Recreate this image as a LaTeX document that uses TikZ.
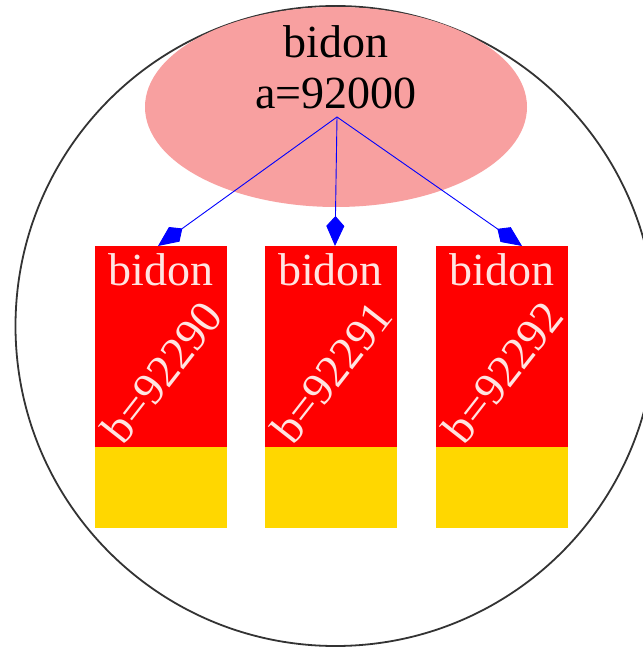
\documentclass[tikz,border=0pt]{standalone}
\usepackage{fontspec}
\setmainfont{Liberation Serif}
\usetikzlibrary{shapes.geometric,arrows.meta}
\definecolor{pinkfill}{RGB}{248,160,160}
\definecolor{boxred}{RGB}{255,0,0}
\definecolor{boxgold}{RGB}{255,215,0}
\definecolor{paletext}{RGB}{255,228,225}
\tikzset{
  bigtext/.style={font=\fontsize{46}{51}\selectfont, inner sep=0pt},
  redbox/.style={fill=boxred, draw=none, minimum width=132pt, minimum height=201pt, inner sep=0pt},
  goldbox/.style={fill=boxgold, draw=none, minimum width=132pt, minimum height=81pt, inner sep=0pt},
  boxtext/.style={bigtext, text=paletext},
  link/.style={blue, line width=0.9pt, -{Kite[length=30pt,width=18pt,inset=10pt]}}
}
\begin{document}
\begin{tikzpicture}[x=1pt,y=-1pt]
\useasboundingbox[fill=white] (0,0) rectangle (642,647);
\draw[line width=1.8pt, black!80] (335.5,326) circle[radius=320];
\node[ellipse, fill=pinkfill, draw=none, minimum width=382pt, minimum height=200pt, inner sep=0pt] (top) at (336,107) {};
\node[bigtext, anchor=base] (toptxt1) at (336,58) {bidon};
\node[bigtext, anchor=base] (toptxt2) at (336,109) {a=92000};
\coordinate (src) at (337,117);
% boxes
\foreach \i/\cx/\lab in {0/161/92290, 1/330.5/92291, 2/502/92292} {
  \node[redbox] (r\i) at (\cx,346.5) {};
  \node[goldbox] (y\i) at (\cx,487.5) {};
  \node[boxtext, anchor=base] (n\i) at (\cx,285) {bidon};
  \node[boxtext, rotate=52] (v\i) at (\cx+1,372) {b=\lab};
}
\coordinate (t0) at (158,246);
\coordinate (t1) at (335,246);
\coordinate (t2) at (522,246);
\draw[link] (src) -- (t0);
\draw[link] (src) -- (t1);
\draw[link] (src) -- (t2);
\end{tikzpicture}
\end{document}
